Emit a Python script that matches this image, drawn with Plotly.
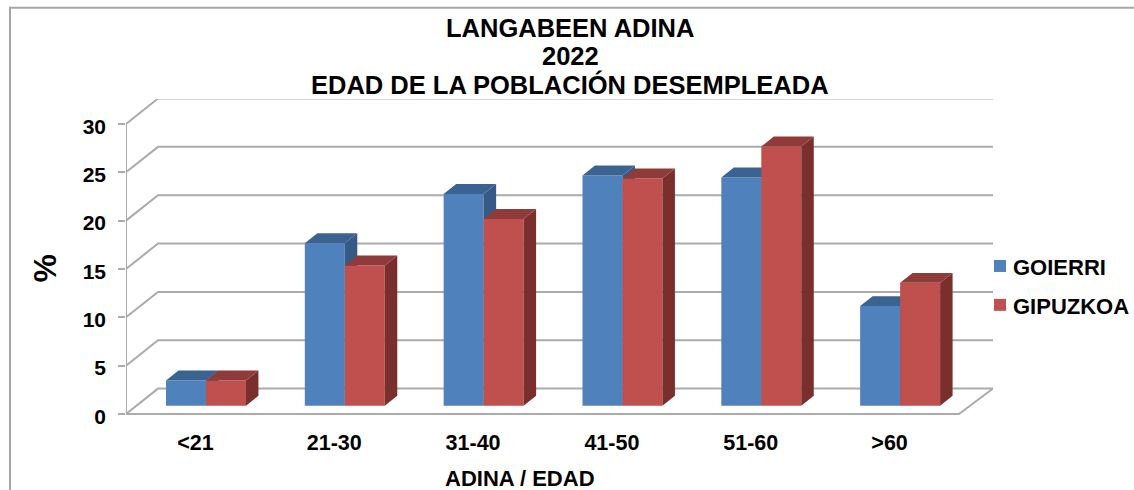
import plotly.graph_objects as go

categories = ["<21", "21-30", "31-40", "41-50", "51-60", ">60"]
goierri = [2.6, 16.8, 21.9, 23.8, 23.6, 10.3]
gipuzkoa = [2.6, 14.5, 19.3, 23.5, 26.8, 12.7]
y_ticks = [0, 5, 10, 15, 20, 25, 30]
title_lines = ["LANGABEEN ADINA", "2022", "EDAD DE LA POBLACIÓN DESEMPLEADA"]

BLUE, BLUE_TOP, BLUE_SIDE = "#4F81BD", "#3A6391", "#365A85"
RED, RED_TOP, RED_SIDE = "#C0504D", "#8F3B39", "#7B2F2D"
GRID = "#ABABAB"
FONT = "Liberation Sans"

# oblique projection, in axis units
n = len(categories)
wall_dx, wall_dy = 0.2305, 2.63
x_max, y_min, y_max = 6.245, -1.03, 32.58
bar_w = 0.288
front = 0.33          # share of the depth in front of the bars
deep = 0.39           # share of the depth taken by the bars
label_shift = 0.25    # tick labels sit a little below their ticks

# plot area, in page pixels
P_L, P_R, P_T, P_B = 126, 993, 98.5, 424.5


def faces(values, shift):
    top_x, top_y, side_x, side_y = [], [], [], []
    ox, oy = wall_dx * front, wall_dy * front
    dx, dy = wall_dx * deep, wall_dy * deep
    for i, v in enumerate(values):
        x0 = i + 0.5 + ox + shift
        x1 = x0 + bar_w
        y0, y1 = oy, v + oy
        top_x += [x0, x1, x1 + dx, x0 + dx, x0, None]
        top_y += [y1, y1, y1 + dy, y1 + dy, y1, None]
        side_x += [x1, x1 + dx, x1 + dx, x1, x1, None]
        side_y += [y0, y0 + dy, y1 + dy, y1, y0, None]
    return top_x, top_y, side_x, side_y


def add_series(fig, name, values, shift, c, c_top, c_side, xa, ya):
    ox, oy = wall_dx * front, wall_dy * front
    fig.add_trace(go.Bar(
        name=name, x=[i + 0.5 + ox + shift + bar_w / 2 for i in range(n)],
        y=values, base=oy, width=bar_w, marker=dict(color=c, line_width=0),
        xaxis=xa, yaxis=ya, showlegend=False))
    tx, ty, sx, sy = faces(values, shift)
    for fx, fy, col in ((sx, sy, c_side), (tx, ty, c_top)):
        fig.add_trace(go.Scatter(
            x=fx, y=fy, mode="lines", fill="toself", fillcolor=col,
            line=dict(width=0), hoverinfo="skip", showlegend=False,
            xaxis=xa, yaxis=ya))


fig = go.Figure()
add_series(fig, "GOIERRI", goierri, -bar_w, BLUE, BLUE_TOP, BLUE_SIDE, "x", "y")
add_series(fig, "GIPUZKOA", gipuzkoa, 0, RED, RED_TOP, RED_SIDE, "x2", "y2")
# carrier of the value-axis labels
fig.add_trace(go.Scatter(x=[None], y=[None], xaxis="x", yaxis="y3", showlegend=False,
                         hoverinfo="skip"))


def px_x(p):
    return (p - P_L) / (P_R - P_L)


def px_y(p):
    return (P_B - p) / (P_B - P_T)


shapes = []
line = dict(color=GRID, width=2)
for v in y_ticks:
    shapes.append(dict(type="path", xref="x", yref="y", layer="below", line=line,
                       path=f"M 0 {v} L {wall_dx} {v + wall_dy} L {x_max} {v + wall_dy}"))
# floor edges and front axes
shapes.append(dict(type="path", xref="x", yref="y", layer="below", line=line,
                   path=f"M 0 0 L {n} 0 L {x_max} {wall_dy}"))
shapes.append(dict(type="line", xref="x", yref="y", layer="below", line=line,
                   x0=0, x1=0, y0=0, y1=y_ticks[-1]))
# outer chart border (left and top only are in frame)
border = dict(color="#A6A6A6", width=2)
shapes.append(dict(type="line", xref="paper", yref="paper", line=border,
                   x0=px_x(10), x1=px_x(10), y0=px_y(495), y1=px_y(6)))
shapes.append(dict(type="line", xref="paper", yref="paper", line=border,
                   x0=px_x(10), x1=px_x(1140), y0=px_y(7), y1=px_y(7)))


def label(text, x, y, size, **kw):
    return dict(text=text, xref="paper", yref="paper", x=px_x(x), y=px_y(y),
                xanchor=kw.pop("xanchor", "center"), yanchor="middle", showarrow=False,
                font=dict(size=size), **kw)


annotations = [
    label("ADINA / EDAD", 519.5, 479, 22),
    label("%", 45, 268.5, 32, textangle=-90),
]
for txt, py in zip(title_lines, (27, 55, 84)):
    annotations.append(label(txt, 570, py, 25.5))
# legend
for name, col, py in (("GOIERRI", BLUE, 266), ("GIPUZKOA", RED, 305)):
    shapes.append(dict(type="rect", xref="paper", yref="paper", fillcolor=col, line_width=0,
                       x0=px_x(994), x1=px_x(1006), y0=px_y(py + 6), y1=px_y(py - 6)))
    annotations.append(label(name, 1011, py + 2, 22, xanchor="left"))

fig.update_layout(
    width=1134, height=490, autosize=False,
    margin=dict(l=P_L, r=1134 - P_R, t=P_T, b=490 - P_B),
    paper_bgcolor="white", plot_bgcolor="white", showlegend=False,
    font=dict(family=FONT, color="#000000", weight="bold"),
    xaxis=dict(range=[0, x_max], tickvals=[i + 0.5 for i in range(n)], ticktext=categories,
               showgrid=False, zeroline=False, showline=False, ticks="",
               ticklabelstandoff=3, tickfont=dict(size=21.5, family=FONT, weight="bold")),
    yaxis=dict(range=[y_min, y_max], tickvals=y_ticks, showgrid=False, zeroline=False,
               showline=False, ticks="outside", ticklen=7, tickwidth=2, tickcolor=GRID,
               showticklabels=False),
    xaxis2=dict(range=[0, x_max], overlaying="x", visible=False),
    yaxis2=dict(range=[y_min, y_max], overlaying="y", visible=False),
    yaxis3=dict(range=[y_min + label_shift, y_max + label_shift], overlaying="y", side="left",
                tickvals=y_ticks, showgrid=False, zeroline=False, showline=False,
                ticks="", ticklabelstandoff=19,
                tickfont=dict(size=21, family=FONT, weight="bold")),
    shapes=shapes, annotations=annotations,
    barmode="overlay",
)

fig.write_html("out.html", config={"displayModeBar": False},
               post_script="document.body.style.margin='0';document.body.style.overflow='hidden';")
